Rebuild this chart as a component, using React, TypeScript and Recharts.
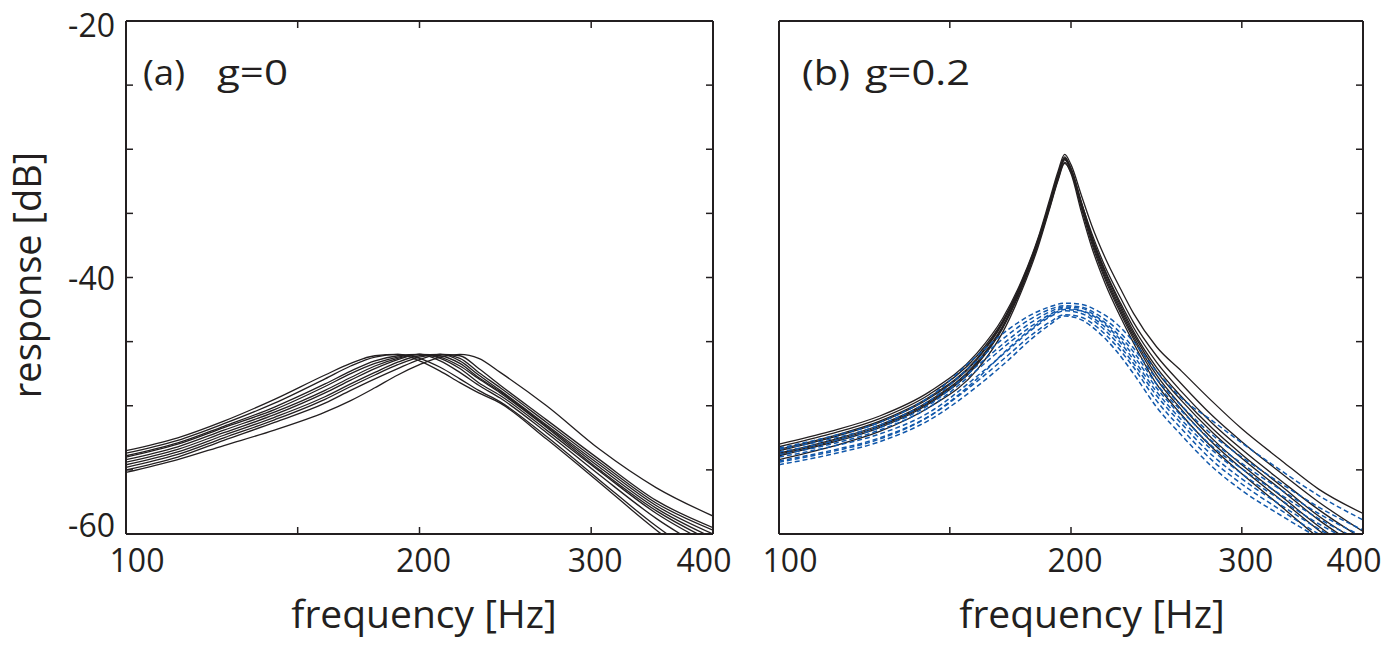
import React from 'react';
import { LineChart, Line, XAxis, YAxis } from 'recharts';

const INK = '#231f20';
const BLUE = '#1158ab';
const FONT = '"Open Sans", "Noto Sans", sans-serif';

const xTicks = [100, 150, 200, 300, 400];
const xLabels = [100, 200, 300, 400];
const yTicks = [-60, -55, -50, -45, -40, -35, -30, -25, -20];
const yLabels = [-60, -40, -20];

// (a) g=0 : responses in dB at these frequencies
const freqA = [100, 113, 126, 142, 160, 170, 180, 190, 200, 210, 220, 230, 242, 270, 306, 350, 400];
const respA0 = [-53.5, -52.5, -51.2, -49.5, -47.6, -46.7, -46.1, -46.0, -46.5, -47.3, -48.2, -49.0, -49.8, -52.6, -56.0, -59.7, -62.8];
const respA1 = [-53.7, -52.7, -51.4, -49.8, -47.9, -46.9, -46.2, -46.0, -46.3, -47.0, -47.9, -48.8, -49.7, -52.4, -55.8, -59.4, -62.4];
const respA2 = [-53.9, -52.9, -51.6, -50.1, -48.3, -47.3, -46.5, -46.1, -46.0, -46.5, -47.4, -48.4, -49.4, -52.1, -55.4, -58.8, -61.5];
const respA3 = [-54.0, -53.0, -51.7, -50.3, -48.5, -47.5, -46.7, -46.2, -46.0, -46.3, -47.1, -48.2, -49.2, -51.9, -55.1, -58.4, -60.9];
const respA4 = [-54.2, -53.2, -51.9, -50.5, -48.8, -47.8, -46.9, -46.3, -46.0, -46.2, -46.9, -47.9, -49.0, -51.7, -55.0, -58.2, -60.6];
const respA5 = [-54.4, -53.4, -52.1, -50.7, -49.0, -48.0, -47.1, -46.4, -46.0, -46.1, -46.7, -47.8, -48.9, -51.6, -54.8, -58.0, -60.3];
const respA6 = [-54.6, -53.6, -52.3, -50.9, -49.3, -48.3, -47.4, -46.6, -46.1, -46.0, -46.5, -47.6, -48.8, -51.5, -54.6, -57.8, -60.0];
const respA7 = [-54.8, -53.8, -52.5, -51.1, -49.5, -48.5, -47.6, -46.8, -46.2, -46.0, -46.3, -47.4, -48.6, -51.3, -54.4, -57.6, -59.7];
const respA8 = [-55.0, -54.0, -52.7, -51.3, -49.8, -48.8, -47.9, -47.1, -46.4, -46.0, -46.1, -47.1, -48.4, -51.1, -54.2, -57.4, -59.5];
const respA9 = [-55.2, -54.2, -53.1, -51.9, -50.5, -49.6, -48.6, -47.6, -46.8, -46.2, -46.0, -46.3, -47.4, -50.0, -53.4, -56.4, -58.6];
const curvesA = [respA0, respA1, respA2, respA3, respA4, respA5, respA6, respA7, respA8, respA9];

// (b) g=0.2 : solid black curves
const freqB = [100, 113, 127, 143, 160, 170, 178, 185, 190, 194, 197, 200, 205, 210, 217, 225, 232, 245, 260, 280, 300, 330, 360, 400];
const respB0 = [-53.9, -52.9, -51.7, -49.8, -46.8, -44.0, -40.8, -37.4, -34.6, -32.3, -31.0, -31.9, -34.9, -37.6, -40.5, -43.1, -45.1, -48.3, -50.7, -53.3, -55.3, -57.9, -60.3, -62.8];
const respB1 = [-53.7, -52.7, -51.5, -49.6, -46.6, -43.8, -40.6, -37.3, -34.4, -32.1, -30.8, -31.7, -34.6, -37.3, -40.2, -42.8, -44.8, -47.9, -50.3, -52.9, -54.9, -57.4, -59.7, -62.2];
const respB2 = [-53.4, -52.4, -51.2, -49.3, -46.3, -43.5, -40.4, -37.1, -34.3, -32.0, -30.7, -31.6, -34.4, -37.1, -40.0, -42.6, -44.6, -47.6, -50.0, -52.6, -54.6, -57.1, -59.4, -61.8];
const respB3 = [-53.8, -52.8, -51.6, -49.7, -46.7, -43.9, -40.7, -37.3, -34.4, -32.1, -30.8, -31.6, -34.3, -36.9, -39.8, -42.4, -44.4, -47.3, -49.6, -52.1, -54.1, -56.6, -58.9, -61.2];
const respB4 = [-53.2, -52.2, -51.0, -49.1, -46.1, -43.4, -40.3, -37.0, -34.2, -31.9, -30.6, -31.5, -34.2, -36.8, -39.6, -42.2, -44.2, -47.0, -49.3, -51.8, -53.8, -56.3, -58.6, -60.8];
const respB5 = [-53.5, -52.5, -51.3, -49.4, -46.4, -43.6, -40.5, -37.2, -34.3, -32.0, -30.7, -31.5, -34.1, -36.7, -39.5, -42.0, -43.9, -46.6, -48.9, -51.4, -53.4, -55.9, -58.1, -60.4];
const respB6 = [-54.2, -53.2, -52.0, -50.1, -47.2, -44.3, -41.0, -37.6, -34.7, -32.4, -31.1, -31.8, -34.2, -36.5, -39.2, -41.6, -43.5, -46.1, -48.3, -50.8, -52.8, -55.3, -57.5, -59.8];
const respB7 = [-53.0, -52.0, -50.8, -48.9, -45.9, -43.2, -40.2, -36.9, -34.0, -31.7, -30.4, -31.2, -33.6, -35.9, -38.5, -40.9, -42.8, -45.4, -47.3, -49.7, -51.8, -54.3, -56.5, -58.4];
const curvesB = [respB0, respB1, respB2, respB3, respB4, respB5, respB6, respB7];

// (b) g=0.2 : blue dashed curves
const freqBlue = [100, 113, 127, 143, 160, 172, 182, 190, 197, 205, 213, 222, 232, 245, 260, 280, 300, 330, 360, 400];
const dashB0 = [-54.6, -53.8, -52.8, -51.1, -48.5, -46.5, -44.8, -43.7, -43.0, -43.3, -44.2, -45.6, -47.5, -50.1, -52.3, -54.8, -56.6, -58.6, -60.3, -62.2];
const dashB1 = [-54.3, -53.5, -52.5, -50.8, -48.1, -46.1, -44.5, -43.5, -42.9, -43.1, -43.9, -45.2, -47.0, -49.6, -51.8, -54.3, -56.1, -58.2, -60.0, -61.9];
const dashB2 = [-54.0, -53.2, -52.2, -50.5, -47.7, -45.7, -44.1, -43.1, -42.6, -42.8, -43.6, -44.9, -46.7, -49.2, -51.4, -53.9, -55.7, -57.8, -59.6, -61.5];
const dashB3 = [-53.8, -53.0, -51.9, -50.1, -47.2, -45.2, -43.8, -42.9, -42.4, -42.6, -43.4, -44.6, -46.4, -48.9, -51.1, -53.5, -55.3, -57.4, -59.2, -61.0];
const dashB4 = [-54.4, -53.6, -52.6, -50.8, -47.9, -45.6, -44.0, -43.0, -42.5, -42.6, -43.2, -44.4, -46.1, -48.6, -50.8, -53.2, -54.9, -57.0, -58.8, -60.6];
const dashB5 = [-53.6, -52.8, -51.7, -49.9, -46.9, -44.9, -43.5, -42.7, -42.3, -42.4, -43.1, -44.2, -45.8, -48.3, -50.4, -52.8, -54.5, -56.6, -58.4, -60.2];
const dashB6 = [-53.4, -52.6, -51.5, -49.6, -46.5, -44.5, -43.2, -42.5, -42.2, -42.3, -42.9, -43.9, -45.5, -47.9, -50.0, -52.3, -54.0, -56.1, -57.9, -59.7];
const dashB7 = [-53.3, -52.4, -51.3, -49.3, -46.1, -44.1, -42.9, -42.3, -42.0, -42.1, -42.6, -43.5, -45.0, -47.3, -49.4, -51.2, -52.9, -55.1, -57.0, -58.9];
const dashedB = [dashB0, dashB1, dashB2, dashB3, dashB4, dashB5, dashB6, dashB7];

const toPoints = (freq: number[], resp: number[]) => freq.map((f, i) => ({ f, db: resp[i] }));

const XTick = (props: any) => {
  const { x, y, payload } = props;
  const v = payload.value;
  if (!xLabels.includes(v)) return null;
  const dx = v === 100 ? 11 : v === 400 ? -9 : 4;
  return (
    <text x={x + dx} y={y + 44.5} textAnchor="middle" fontSize={32} fill={INK} fontFamily={FONT}>
      {v}
    </text>
  );
};

const YTick = (props: any) => {
  const { x, y, payload } = props;
  const v = payload.value;
  if (!yLabels.includes(v)) return null;
  const dy = v === -20 ? 15.5 : v === -60 ? 2.5 : 12;
  return (
    <text x={x - 18} y={y + dy} textAnchor="end" fontSize={32} fill={INK} fontFamily={FONT}>
      {v}
    </text>
  );
};

const axisLine = { stroke: INK, strokeWidth: 2 };
const tickLine = { stroke: INK, strokeWidth: 1.5 };
const blank = () => '';

interface PanelProps {
  width: number;
  leftWidth: number;
  marginRight: number;
  showYLabels: boolean;
  children: React.ReactNode;
}

const Panel: React.FC<PanelProps> = ({ width, leftWidth, marginRight, showYLabels, children }) => (
  <LineChart width={width} height={646} margin={{ top: 20, right: marginRight, bottom: 52, left: 0 }}>
    <XAxis
      dataKey="f"
      type="number"
      scale="log"
      domain={[100, 400]}
      allowDataOverflow
      ticks={xTicks}
      interval={0}
      height={60}
      tickSize={-7}
      tickMargin={0}
      axisLine={axisLine}
      tickLine={tickLine}
      tick={<XTick />}
    />
    <XAxis
      xAxisId="top"
      orientation="top"
      dataKey="f"
      type="number"
      scale="log"
      domain={[100, 400]}
      allowDataOverflow
      ticks={xTicks}
      interval={0}
      height={1}
      tickSize={-7}
      axisLine={axisLine}
      tickLine={tickLine}
      tickFormatter={blank}
    />
    <YAxis
      type="number"
      domain={[-60, -20]}
      allowDataOverflow
      ticks={yTicks}
      interval={0}
      width={leftWidth}
      tickSize={-7}
      tickMargin={0}
      axisLine={axisLine}
      tickLine={tickLine}
      tick={showYLabels ? <YTick /> : false}
    />
    <YAxis
      yAxisId="right"
      orientation="right"
      type="number"
      domain={[-60, -20]}
      allowDataOverflow
      ticks={yTicks}
      interval={0}
      width={1}
      tickSize={-7}
      axisLine={axisLine}
      tickLine={tickLine}
      tickFormatter={blank}
    />
    {children}
  </LineChart>
);

export default function App() {
  return (
    <div style={{ position: 'absolute', left: 0, top: 0, width: 1395, height: 646, background: '#fff' }}>
      <div style={{ position: 'absolute', left: 0, top: 0 }}>
        <Panel width={735} leftWidth={126} marginRight={21} showYLabels>
          {curvesA.map((c, i) => (
            <Line
              key={`a${i}`}
              data={toPoints(freqA, c)}
              dataKey="db"
              type="monotone"
              stroke={INK}
              strokeWidth={1.3}
              dot={false}
              activeDot={false}
              isAnimationActive={false}
            />
          ))}
        </Panel>
      </div>
      <div style={{ position: 'absolute', left: 735, top: 0 }}>
        <Panel width={660} leftWidth={44} marginRight={31} showYLabels={false}>
          {curvesB.map((c, i) => (
            <Line
              key={`b${i}`}
              data={toPoints(freqB, c)}
              dataKey="db"
              type="monotone"
              stroke={INK}
              strokeWidth={1.3}
              dot={false}
              activeDot={false}
              isAnimationActive={false}
            />
          ))}
          {dashedB.map((c, i) => (
            <Line
              key={`d${i}`}
              data={toPoints(freqBlue, c)}
              dataKey="db"
              type="monotone"
              stroke={BLUE}
              strokeWidth={1.5}
              strokeDasharray="5 3"
              dot={false}
              activeDot={false}
              isAnimationActive={false}
            />
          ))}
        </Panel>
      </div>
      <svg
        width={1395}
        height={646}
        style={{ position: 'absolute', left: 0, top: 0, pointerEvents: 'none' }}
        fontFamily={FONT}
        fill={INK}
      >
        <text x={41} y={275} fontSize={38} textAnchor="middle" transform="rotate(-90 41 275)">
          response [dB]
        </text>
        <text x={424} y={628} fontSize={39} textAnchor="middle">frequency [Hz]</text>
        <text x={1092} y={628} fontSize={39} textAnchor="middle">frequency [Hz]</text>
        <text x={143} y={85} fontSize={34} textLength={42} lengthAdjust="spacingAndGlyphs">(a)</text>
        <text x={217} y={85} fontSize={34} textLength={71} lengthAdjust="spacingAndGlyphs">g=0</text>
        <text x={802} y={85} fontSize={34} textLength={48} lengthAdjust="spacingAndGlyphs">(b)</text>
        <text x={865} y={85} fontSize={34} textLength={105} lengthAdjust="spacingAndGlyphs">g=0.2</text>
      </svg>
    </div>
  );
}
